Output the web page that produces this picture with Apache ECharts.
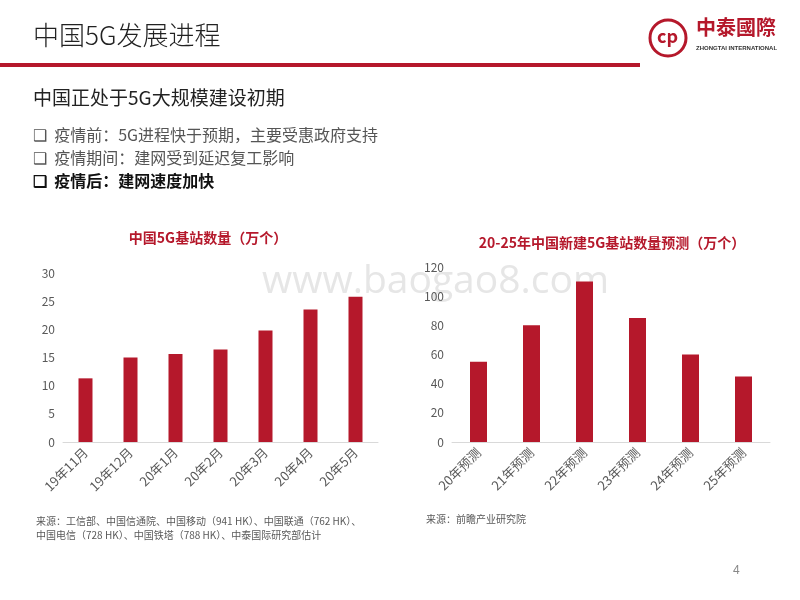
<!DOCTYPE html>
<html>
<head>
<meta charset="utf-8">
<script src="https://cdn.jsdelivr.net/npm/echarts@6/dist/echarts.min.js"></script>
<style>html,body{margin:0;padding:0;background:#fff}</style>
</head>
<body>
<div id="myChart" style="width:800px;height:600px;"></div>
<script type='text/javascript'>
//左图数据
var leftCats = ['19年11月','19年12月','20年1月','20年2月','20年3月','20年4月','20年5月'];
var leftVals = [11.3, 15.0, 15.6, 16.4, 19.8, 23.5, 25.8];
//右图数据
var rightCats = ['20年预测','21年预测','22年预测','23年预测','24年预测','25年预测'];
var rightVals = [55, 80, 110, 85, 60, 45];

var red = '#b5182b';
var font = '"Noto Sans CJK SC", sans-serif';
var axisLbl = { color: '#595959', fontSize: 12, fontFamily: font };

var option = {
	textStyle: { fontFamily: font },
	title: [
		{ text: '中国5G基站数量（万个）', left: 203, top: 226, textAlign: 'center',
		  textStyle: { color: red, fontSize: 14, fontWeight: 'bold' } },
		{ text: '20-25年中国新建5G基站数量预测（万个）', left: 607, top: 231, textAlign: 'center',
		  textStyle: { color: red, fontSize: 14, fontWeight: 'bold' } }
	],
	graphic: [
		{ type: 'text', left: 262, top: 262, silent: true,
		  style: { text: 'www.baogao8.com', fill: '#e6e6e6', fontSize: 39, fontFamily: 'Open Sans' } },
		{ type: 'text', left: 33, top: 22, style: { text: '中国5G发展进程', fill: '#222', fontSize: 26, fontWeight: 300, fontFamily: font } },
		{ type: 'rect', shape: { x: 0, y: 63, width: 640, height: 4 }, style: { fill: red } },
		{ type: 'circle', shape: { cx: 668, cy: 38, r: 18 }, style: { fill: 'none', stroke: red, lineWidth: 3 } },
		{ type: 'text', left: 657, top: 27, style: { text: 'cp', fill: red, fontSize: 18, fontWeight: 'bold', fontFamily: font } },
		{ type: 'text', left: 696, top: 17, style: { text: '中泰國際', fill: red, fontSize: 20, fontWeight: 'bold', fontFamily: font } },
		{ type: 'text', left: 696, top: 45, style: { text: 'ZHONGTAI INTERNATIONAL', fill: '#333', fontSize: 6, fontWeight: 'bold' } },
		{ type: 'text', left: 33, top: 88, style: { text: '中国正处于5G大规模建设初期', fill: '#222', fontSize: 19, fontFamily: font } },
		{ type: 'text', left: 33, top: 127, style: { text: '❑  疫情前：5G进程快于预期，主要受惠政府支持', fill: '#555', fontSize: 16, fontFamily: font } },
		{ type: 'text', left: 33, top: 150, style: { text: '❑  疫情期间：建网受到延迟复工影响', fill: '#555', fontSize: 16, fontFamily: font } },
		{ type: 'text', left: 33, top: 173, style: { text: '❑  疫情后：建网速度加快', fill: '#111', fontSize: 16, fontWeight: 'bold', fontFamily: font } },
		{ type: 'text', left: 36, top: 514, style: { text: '来源：工信部、中国信通院、中国移动（941 HK）、中国联通（762 HK）、\n中国电信（728 HK）、中国铁塔（788 HK）、中泰国际研究部估计', fill: '#595959', fontSize: 10, lineHeight: 14, fontFamily: font } },
		{ type: 'text', left: 426, top: 514, style: { text: '来源：前瞻产业研究院', fill: '#595959', fontSize: 10, fontFamily: font } },
		{ type: 'text', left: 733, top: 565, style: { text: '4', fill: '#888', fontSize: 12 } }
	],
	grid: [
		{ left: 63, right: 422, top: 273, bottom: 158 },
		{ left: 452, right: 30, top: 267, bottom: 158 }
	],
	xAxis: [
		{ type: 'category', gridIndex: 0, data: leftCats,
		  axisLine: { lineStyle: { color: '#d9d9d9' } }, axisTick: { show: false },
		  axisLabel: Object.assign({ rotate: 45, interval: 0 }, axisLbl, { fontSize: 13 }) },
		{ type: 'category', gridIndex: 1, data: rightCats,
		  axisLine: { lineStyle: { color: '#d9d9d9' } }, axisTick: { show: false },
		  axisLabel: Object.assign({ rotate: 45, interval: 0 }, axisLbl, { fontSize: 13 }) }
	],
	yAxis: [
		{ type: 'value', gridIndex: 0, min: 0, max: 30, interval: 5,
		  splitLine: { show: false }, axisLabel: axisLbl },
		{ type: 'value', gridIndex: 1, min: 0, max: 120, interval: 20,
		  splitLine: { show: false }, axisLabel: axisLbl }
	],
	series: [
		{ name: '5G基站数量', type: 'bar', xAxisIndex: 0, yAxisIndex: 0, data: leftVals,
		  barWidth: 14, itemStyle: { color: red } },
		{ name: '新建5G基站预测', type: 'bar', xAxisIndex: 1, yAxisIndex: 1, data: rightVals,
		  barWidth: 17, itemStyle: { color: red } }
	]
};
echarts.init(document.getElementById('myChart')).setOption(option);
</script>
</body>
</html>
